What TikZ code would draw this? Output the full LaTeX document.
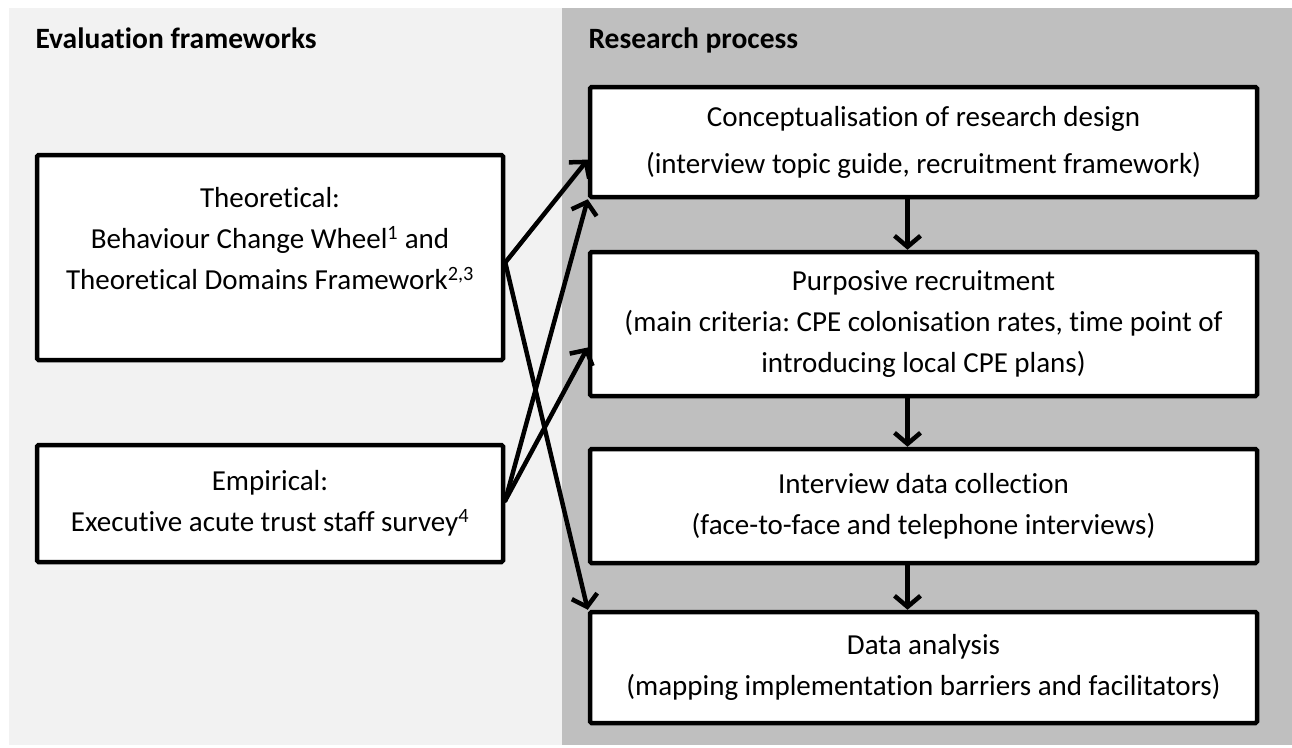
\documentclass[tikz,border=0pt]{standalone}
\usepackage{fontspec}
\setmainfont{Carlito}[Ligatures=NoCommon]
\usetikzlibrary{arrows.meta,positioning,calc}
\frenchspacing

\definecolor{leftgray}{HTML}{F2F2F2}
\definecolor{rightgray}{HTML}{BFBFBF}

\tikzset{
  stepbox/.style={draw, line width=4.5pt, fill=white, rounded corners=1.5pt, align=center, inner sep=0pt,
    font=\fontsize{29}{41}\selectfont},
  heading/.style={anchor=base west, font=\fontsize{29.5}{34}\selectfont\bfseries},
  flow/.style={line width=4.5pt, line cap=round, line join=round, -{Straight Barb[length=11pt,width=26pt]}}
}

\begin{document}
\begin{tikzpicture}[x=1pt, y=-1pt]
        \useasboundingbox (0,0) rectangle (1292,747);
        % background panels
        \fill[leftgray] (9,8) rectangle (562,745);
        \fill[rightgray] (562,8) rectangle (1292,745);
        \node[heading] (hframe) at (32,48) {Evaluation frameworks};
        \node[heading] (hproc) at (585,48) {Research process};
        % research process
        \node[stepbox, minimum width=667pt, minimum height=110pt] (concept) at (923.5,142)
            {Conceptualisation of research design\\[6pt](interview topic guide, recruitment framework)};
        \node[stepbox, minimum width=667pt, minimum height=144pt] (recruit) at (923.5,324)
            {Purposive recruitment\\(main criteria: CPE colonisation rates, time point of\\introducing local CPE plans)};
        \node[stepbox, minimum width=667pt, minimum height=114pt] (interview) at (923.5,506)
            {Interview data collection\\(face-to-face and telephone interviews)};
        \node[stepbox, minimum width=667pt, minimum height=111pt] (analysis) at (923.5,667.5)
            {Data analysis\\(mapping implementation barriers and facilitators)};
        % frameworks
        \node[stepbox, minimum width=466pt, minimum height=205pt] (theory) at (270,257.5)
            {Theoretical:\\Behaviour Change Wheel\textsuperscript{1} and\\Theoretical Domains Framework\textsuperscript{2,3}\\[-16pt]\strut};
        \node[stepbox, minimum width=466pt, minimum height=117pt] (empiric) at (270,503.5)
            {Empirical:\\Executive acute trust staff survey\textsuperscript{4}};
        % arrows
        \draw[flow] ([xshift=-16pt]concept.south) -- ([xshift=-16pt]recruit.north);
        \draw[flow] ([xshift=-16pt]recruit.south) -- ([xshift=-16pt]interview.north);
        \draw[flow] ([xshift=-16pt]interview.south) -- ([xshift=-16pt]analysis.north);
        \draw[flow] ([yshift=-5pt]theory.east) -- (concept.183);
        \draw[flow] ([yshift=-5pt]theory.east) -- (analysis.north west);
        \draw[flow] ([yshift=3pt]empiric.east) -- (concept.south west);
        \draw[flow] ([yshift=3pt]empiric.east) -- (recruit.184);
\end{tikzpicture}
\end{document}
